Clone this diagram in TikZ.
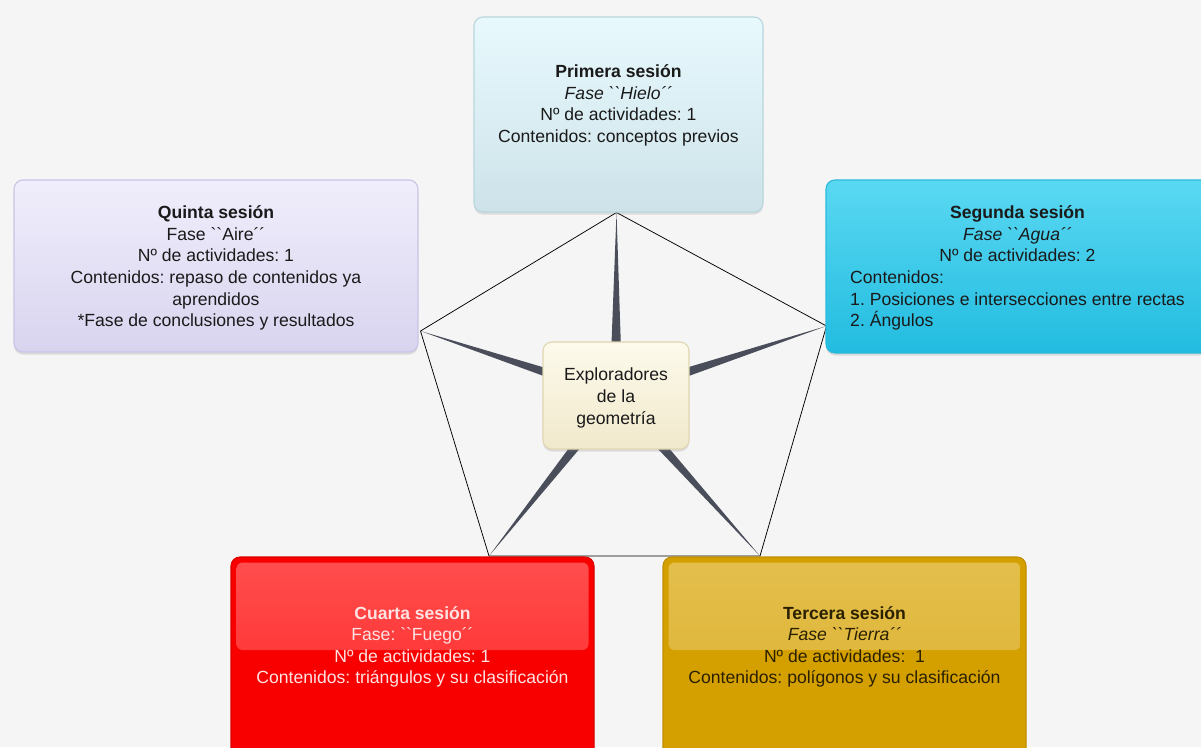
\documentclass[tikz,border=0pt]{standalone}
\usepackage{fontspec}
\setmainfont{Liberation Sans}[Ligatures=TeXOff]
\usetikzlibrary{calc,shadows}

\definecolor{paper}{HTML}{F5F5F5}
\definecolor{ink}{HTML}{1A1A1A}
\definecolor{spoke}{HTML}{4A4E5A}
% session box colours
\definecolor{hieloTop}{HTML}{E8F9FD}
\definecolor{hieloBot}{HTML}{CDE3E9}
\definecolor{hieloLine}{HTML}{B9D6DE}
\definecolor{aguaTop}{HTML}{5AD8F2}
\definecolor{aguaBot}{HTML}{22BCE0}
\definecolor{aguaLine}{HTML}{2BB9DA}
\definecolor{aireTop}{HTML}{F0EEFC}
\definecolor{aireBot}{HTML}{D8D4EF}
\definecolor{aireLine}{HTML}{C9C4E6}
\definecolor{fuego}{HTML}{F80000}
\definecolor{fuegoLine}{HTML}{DC0000}
\definecolor{fuegoHiTop}{HTML}{FF4E4E}
\definecolor{fuegoHiBot}{HTML}{FF2020}
\definecolor{fuegoText}{HTML}{FFE2E2}
\definecolor{tierra}{HTML}{D4A000}
\definecolor{tierraLine}{HTML}{BF8F00}
\definecolor{tierraHiTop}{HTML}{E4BF4C}
\definecolor{tierraHiBot}{HTML}{DAAE2C}
\definecolor{tierraText}{HTML}{2A2000}
\definecolor{centroTop}{HTML}{FDFAEC}
\definecolor{centroBot}{HTML}{F1E9CC}
\definecolor{centroLine}{HTML}{DFD6B2}

\tikzset{
  box/.style={rounded corners=9pt, line width=1.1pt,
    drop shadow={shadow xshift=0pt, shadow yshift=-2.5pt, opacity=0.22}},
  txt/.style={align=center, inner sep=0pt, text=ink,
    font=\fontsize{17.6}{21.6}\selectfont\frenchspacing},
  edge/.style={draw=black, line width=0.75pt, line join=miter},
  spokefill/.style={fill=spoke},
  glow/.style 2 args={path picture={
    \fill[rounded corners=6pt, top color=#1, bottom color=#2]
      ($(path picture bounding box.north west)+(5.5,5.5)$) rectangle
      ($(path picture bounding box.north east)+(-5.5,93)$);}}
}

\begin{document}
\begin{tikzpicture}[x=1pt,y=-1pt]
\useasboundingbox (0,0) rectangle (1201,747);
\clip (0,0) rectangle (1201,747);
\fill[paper] (0,0) rectangle (1201,747);

% corners of the pentagon and the hub
\coordinate (v1) at (616.5,212.5);
\coordinate (v2) at (826.5,326);
\coordinate (v3) at (760,556);
\coordinate (v4) at (489,556);
\coordinate (v5) at (420.5,331);
\coordinate (o) at (616,395.5);

% pentagon outline
\draw[edge] (v1) -- (v2) -- (v3) -- (v4) -- (v5) -- cycle;

% tapered spokes from the hub to each corner
\foreach \v in {v1,v2,v3,v4,v5}{
  \fill[spokefill] ($(o)!6.5pt!90:(\v)$) -- (\v) -- ($(o)!6.5pt!-90:(\v)$) -- cycle;
}

% session boxes
\node[box, draw=hieloLine, top color=hieloTop, bottom color=hieloBot,
      minimum width=289pt, minimum height=195pt] (s1) at (618.5,114.5) {};
\node[txt] (s1t) at ($(s1)+(0,-9)$)
  {\textbf{Primera sesión}\\ \textit{Fase ``Hielo´´}\\ Nº de actividades: 1\\ Contenidos: conceptos previos};

\node[box, draw=aguaLine, top color=aguaTop, bottom color=aguaBot,
      minimum width=392pt, minimum height=173pt] (s2) at (1022,266.5) {};
\node[txt] (s2t) at (1017.5,268.5)
  {\begin{tabular}{@{}l@{}}
   \multicolumn{1}{@{}c@{}}{\textbf{Segunda sesión}}\\
   \multicolumn{1}{@{}c@{}}{\textit{Fase ``Agua´´}}\\
   \multicolumn{1}{@{}c@{}}{Nº de actividades: 2}\\
   Contenidos:\\
   1. Posiciones e intersecciones entre rectas\\
   2. Ángulos
   \end{tabular}};

\node[box, draw=aireLine, top color=aireTop, bottom color=aireBot,
      minimum width=404pt, minimum height=172pt] (s5) at (216,266) {};
\node[txt] (s5t) at ($(s5)+(0,2)$)
  {\textbf{Quinta sesión}\\ Fase ``Aire´´\\ Nº de actividades: 1\\ Contenidos: repaso de contenidos ya\\ aprendidos\\ *Fase de conclusiones y resultados};

\node[box, draw=fuegoLine, fill=fuego, glow={fuegoHiTop}{fuegoHiBot},
      minimum width=363pt, minimum height=215pt] (s4) at (412.5,664.5) {};
\node[txt, text=fuegoText] (s4t) at ($(s4.north)+(0,90.5)$)
  {\textbf{Cuarta sesión}\\ Fase: ``Fuego´´\\ Nº de actividades: 1\\ Contenidos: triángulos y su clasificación};

\node[box, draw=tierraLine, fill=tierra, glow={tierraHiTop}{tierraHiBot},
      minimum width=363pt, minimum height=215pt] (s3) at (844.5,664.5) {};
\node[txt, text=tierraText] (s3t) at ($(s3.north)+(0,90.5)$)
  {\textbf{Tercera sesión}\\ \textit{Fase ``Tierra´´}\\ Nº de actividades:\ \ 1\\ Contenidos: polígonos y su clasificación};

% central topic
\node[box, draw=centroLine, top color=centroTop, bottom color=centroBot,
      minimum width=146pt, minimum height=107pt] (c) at (o) {};
\node[txt] (ct) at ($(c)+(0,2.5)$) {Exploradores\\ de la\\ geometría};
\end{tikzpicture}
\end{document}
